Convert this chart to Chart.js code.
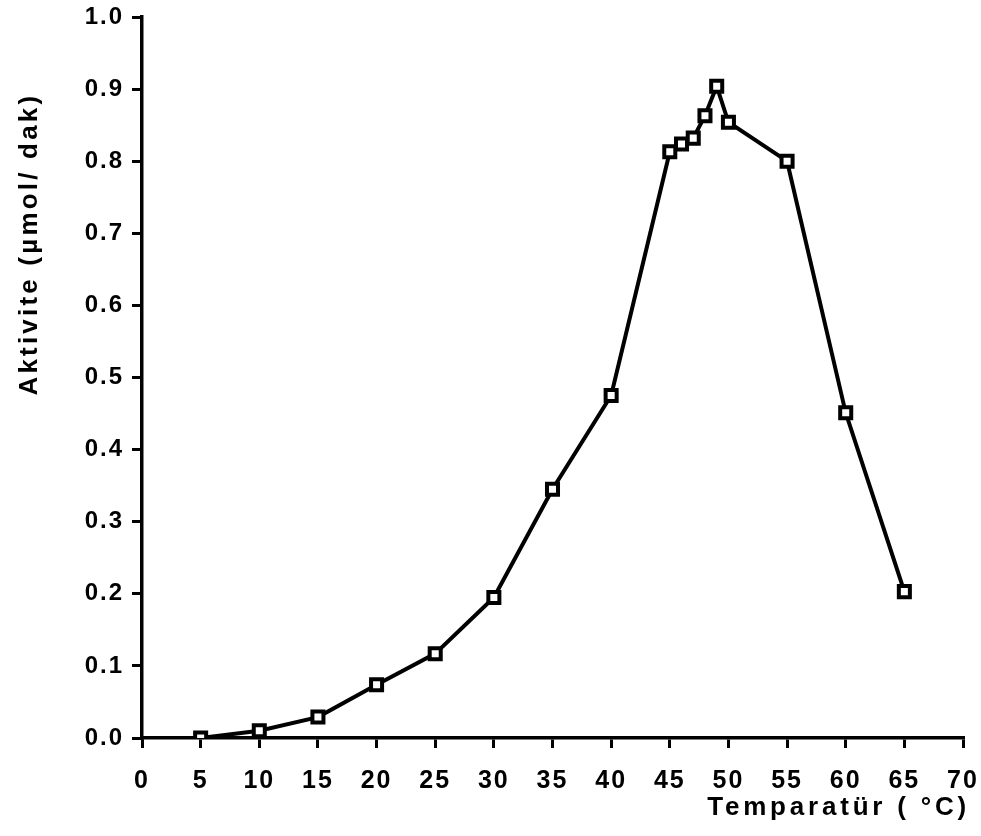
<!DOCTYPE html>
<html><head><meta charset="utf-8">
<script src="https://cdn.jsdelivr.net/npm/chart.js@4/dist/chart.umd.min.js"></script>
<style>html,body{margin:0;padding:0;background:#fff}#wrap{width:981px;height:836px}</style>
</head><body><div id="wrap"><canvas id="c" width="981" height="836"></canvas></div>
<script>
const temperatures = [5, 10, 15, 20, 25, 30, 35, 40, 45, 46, 47, 48, 49, 50, 55, 60, 65];
const activity = [0.0, 0.01, 0.029, 0.074, 0.117, 0.195, 0.345, 0.475, 0.813, 0.824, 0.832, 0.863, 0.904, 0.854, 0.800, 0.451, 0.203];
const xTicks = [0, 5, 10, 15, 20, 25, 30, 35, 40, 45, 50, 55, 60, 65, 70];
const yTicks = [0.0, 0.1, 0.2, 0.3, 0.4, 0.5, 0.6, 0.7, 0.8, 0.9, 1.0];
const xTitle = 'Temparatür ( °C)';
const yTitle = 'Aktivite (µmol/ dak)';

const points = temperatures.map((t, i) => ({x: t, y: activity[i]}));
const FONT = '"Liberation Sans", Arial, Helvetica, sans-serif';

const textPlugin = {
  id: 'txt',
  beforeDraw(chart) { chart.ctx.letterSpacing = '2px'; },
  afterDraw(chart) {
    const ctx = chart.ctx, a = chart.chartArea;
    ctx.save();
    ctx.fillStyle = '#000';
    ctx.font = 'bold 26px ' + FONT;
    ctx.textBaseline = 'alphabetic';
    ctx.letterSpacing = '3.8px';
    ctx.textAlign = 'right';
    ctx.fillText(xTitle, a.right + 7, chart.height - 21);
    ctx.letterSpacing = '3.2px';
    ctx.translate(37, a.top + 0.315 * (a.bottom - a.top));
    ctx.rotate(-Math.PI / 2);
    ctx.textAlign = 'center';
    ctx.fillText(yTitle, 0, 0);
    ctx.restore();
    ctx.letterSpacing = '0px';
  }
};

new Chart(document.getElementById('c'), {
  type: 'scatter',
  data: {
    datasets: [{
      data: points,
      showLine: true,
      borderColor: '#000',
      borderWidth: 4,
      tension: 0,
      pointStyle: 'rect',
      pointRadius: 7.8,
      pointBorderWidth: 4,
      pointBorderColor: '#000',
      pointBackgroundColor: '#fff'
    }, {
      data: points,
      showLine: false,
      pointStyle: 'circle',
      pointRadius: 1.5,
      pointBorderWidth: 0,
      pointBackgroundColor: '#000'
    }]
  },
  options: {
    responsive: false,
    devicePixelRatio: 1,
    animation: false,
    layout: {padding: {left: 0, right: 18, top: 17, bottom: 0}},
    plugins: {legend: {display: false}, tooltip: {enabled: false}},
    scales: {
      x: {
        type: 'linear', min: 0, max: 70,
        afterBuildTicks: s => { s.ticks = xTicks.map(v => ({value: v})); },
        afterFit: s => { s.height = 98; s.paddingLeft = 0; s.paddingRight = 0; },
        grid: {drawOnChartArea: false, drawTicks: true, tickLength: 10, color: '#000', lineWidth: 3},
        border: {display: true, color: '#000', width: 3.5},
        ticks: {color: '#000', font: {family: FONT, size: 25, weight: 'bold'}, padding: 18, maxRotation: 0, autoSkip: false,
                callback: v => String(v)}
      },
      y: {
        type: 'linear', min: 0, max: 1,
        afterBuildTicks: s => { s.ticks = yTicks.map(v => ({value: v})); },
        afterFit: s => { s.width = 142; s.paddingTop = 0; s.paddingBottom = 0; },
        grid: {drawOnChartArea: false, drawTicks: true, tickLength: 10, color: '#000', lineWidth: 3},
        border: {display: true, color: '#000', width: 3.5},
        ticks: {color: '#000', font: {family: FONT, size: 24, weight: 'bold'}, padding: 8, autoSkip: false,
                callback: v => Number(v).toFixed(1)}
      }
    }
  },
  plugins: [textPlugin]
});
</script>
</body></html>
